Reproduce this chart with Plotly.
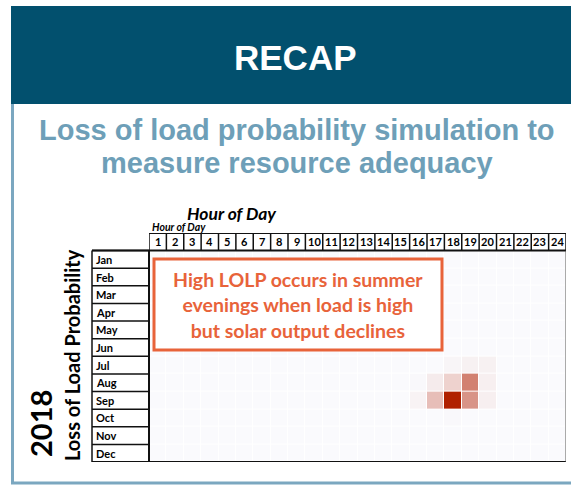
import plotly.graph_objects as go

months = ["Jan", "Feb", "Mar", "Apr", "May", "Jun", "Jul", "Aug", "Sep", "Oct", "Nov", "Dec"]
hours = list(range(1, 25))
hour_labels = [str(h) for h in hours]

# LOLP per month (24 hourly values, relative scale 0-1)
zero = [0.0] * 24
lolp_jan = zero[:]
lolp_feb = zero[:]
lolp_mar = zero[:]
lolp_apr = zero[:]
lolp_may = zero[:]
lolp_jun = zero[:]
lolp_jul = [0,0,0,0,0,0,0,0,0,0,0,0,0,0,0,0,0,0.03,0.05,0.05,0,0,0,0]
lolp_aug = [0,0,0,0,0,0,0,0,0,0,0,0,0,0,0,0.01,0.08,0.22,0.58,0.06,0,0,0,0]
lolp_sep = [0,0,0,0,0,0,0,0,0,0,0,0,0,0,0,0.04,0.32,1.0,0.5,0.06,0,0,0,0]
lolp_oct = [0,0,0,0,0,0,0,0,0,0,0,0,0,0,0,0,0,0.01,0,0,0,0,0,0]
lolp_nov = zero[:]
lolp_dec = zero[:]
lolp = [lolp_jan, lolp_feb, lolp_mar, lolp_apr, lolp_may, lolp_jun,
        lolp_jul, lolp_aug, lolp_sep, lolp_oct, lolp_nov, lolp_dec]

title = "RECAP"
subtitle_lines = ["Loss of load probability simulation to", "measure resource adequacy"]
callout = "High LOLP occurs in summer<br>evenings when load is high<br>but solar output declines"

W, H = 571, 485
def px(x):
    return x / W
def py(y):
    return 1 - y / H

fig = go.Figure()
fig.add_trace(go.Heatmap(
    z=lolp, x=hours, y=list(range(len(months))),
    colorscale=[[0, "#FAFAFD"], [0.3, "#E9C3BD"], [0.6, "#D07C6C"], [1, "#B02100"]],
    zmin=0, zmax=1, showscale=False, xgap=1, ygap=1, hoverinfo="skip"))

shapes = []
annotations = []
blk = "#111111"
# header band
shapes.append(dict(type="rect", xref="paper", yref="paper", x0=px(11), x1=1, y0=py(104), y1=py(6),
                   fillcolor="#02506E", line=dict(width=0), layer="below"))
# frame lines
shapes.append(dict(type="line", xref="paper", yref="paper", x0=px(12.5), x1=px(12.5), y0=py(104), y1=py(484),
                   line=dict(color="#7BA7C0", width=3)))
shapes.append(dict(type="line", xref="paper", yref="paper", x0=px(11), x1=1, y0=py(483), y1=py(483),
                   line=dict(color="#7BA7C0", width=3)))

# header row (hours)
shapes.append(dict(type="line", xref="x", yref="y", x0=0.5, x1=24.5, y0=-1.5, y1=-1.5, line=dict(color=blk, width=2)))
for h in range(0, 25):
    shapes.append(dict(type="line", xref="x", yref="y", x0=h + 0.5, x1=h + 0.5, y0=-1.5, y1=-0.5,
                       line=dict(color=blk, width=1.5)))
for h, lab in zip(hours, hour_labels):
    annotations.append(dict(x=h, y=-1, xref="x", yref="y", text=lab, showarrow=False,
                            xanchor="center", yanchor="middle",
                            font=dict(family="Lato", size=11, color="#000", weight="bold")))
shapes.append(dict(type="line", xref="paper", yref="y", x0=px(92), x1=px(566), y0=-0.5, y1=-0.5,
                   line=dict(color=blk, width=2)))
shapes.append(dict(type="line", xref="paper", yref="y", x0=px(92), x1=px(566), y0=11.5, y1=11.5,
                   line=dict(color=blk, width=2)))
# month column
for i in range(len(months) + 1):
    shapes.append(dict(type="line", xref="paper", yref="y", x0=px(92), x1=px(149), y0=i - 0.5, y1=i - 0.5,
                       line=dict(color=blk, width=1.5)))
shapes.append(dict(type="line", xref="paper", yref="y", x0=px(92), x1=px(92), y0=-0.5, y1=11.5,
                   line=dict(color=blk, width=1.5)))
shapes.append(dict(type="line", xref="paper", yref="y", x0=px(149), x1=px(149), y0=-0.5, y1=11.5,
                   line=dict(color=blk, width=2)))
shapes.append(dict(type="line", xref="x", yref="y", x0=24.5, x1=24.5, y0=-0.5, y1=11.5,
                   line=dict(color="#555555", width=1)))
for i, m in enumerate(months):
    annotations.append(dict(x=px(94), y=i, xref="paper", yref="y", text=m, showarrow=False,
                            xanchor="left", yanchor="middle",
                            font=dict(family="Lato", size=11, color="#000", weight="bold")))

# callout box
shapes.append(dict(type="rect", xref="paper", yref="paper", x0=px(154), x1=px(442), y0=py(350), y1=py(259),
                   fillcolor="white", line=dict(color="#E8633A", width=3)))

def txt(x, y, text, size, color, family="Lato", angle=0, xa="center"):
    annotations.append(dict(x=px(x), y=py(y), xref="paper", yref="paper", text=text, showarrow=False,
                            xanchor=xa, yanchor="middle", textangle=angle,
                            font=dict(family=family, size=size, color=color, weight="bold")))

txt(298, 305, callout, 19.5, "#E8633A")
txt(296, 57, title, 35, "white", family="Liberation Sans")
txt(297, 130, subtitle_lines[0], 29, "#6E9FB8", family="Liberation Sans")
txt(297, 163, subtitle_lines[1], 29, "#6E9FB8", family="Liberation Sans")
txt(232, 213, "<i>Hour of Day</i>", 17.5, "#000")
txt(150, 227, "<i>Hour of Day</i>", 10.5, "#000", xa="left")
txt(72, 355, "Loss of Load Probability", 20, "#000", angle=-90)
txt(40, 424, "2018", 29, "#000", angle=-90)

fig.update_layout(
    width=W, height=H, margin=dict(l=0, r=0, t=0, b=0),
    paper_bgcolor="white", plot_bgcolor="white",
    xaxis=dict(domain=[px(149), px(566)], range=[0.5, 24.5], visible=False, fixedrange=True),
    yaxis=dict(domain=[py(462), py(233)], range=[11.5, -1.5], visible=False, fixedrange=True),
    shapes=shapes, annotations=annotations, showlegend=False)

fig.write_html("out.html", config={"displayModeBar": False},
               post_script="document.body.style.margin='0';")
